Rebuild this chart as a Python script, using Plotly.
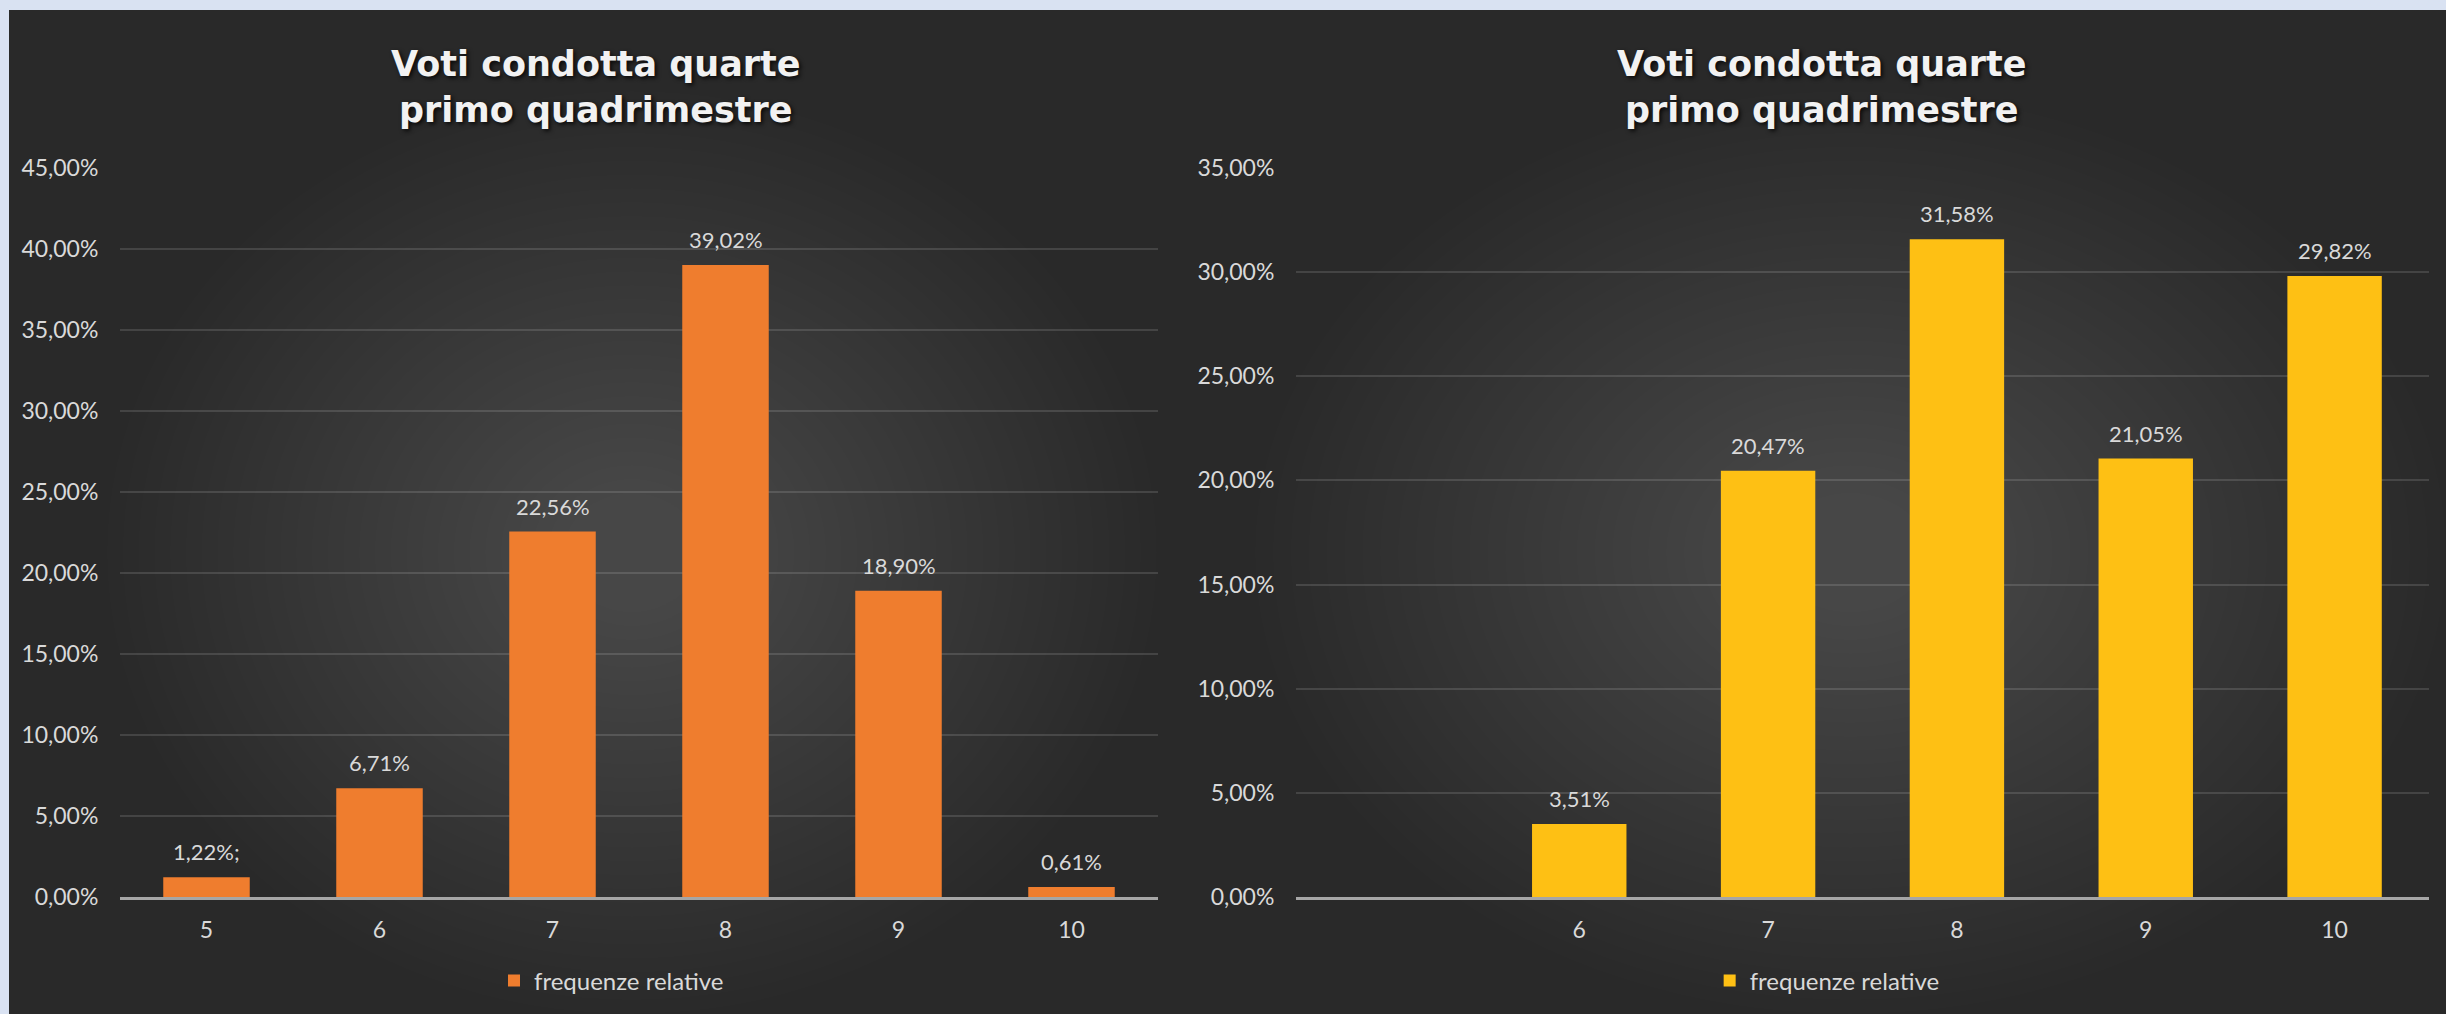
import plotly.graph_objects as go

# Dati: voti di condotta delle quarte, primo quadrimestre (frequenze relative)
voti_sx = ['5', '6', '7', '8', '9', '10']
freq_sx = [0.0122, 0.0671, 0.2256, 0.3902, 0.1890, 0.0061]
etichette_sx = ['1,22%;', '6,71%', '22,56%', '39,02%', '18,90%', '0,61%']

voti_dx = ['5', '6', '7', '8', '9', '10']
freq_dx = [None, 0.0351, 0.2047, 0.3158, 0.2105, 0.2982]
etichette_dx = ['', '3,51%', '20,47%', '31,58%', '21,05%', '29,82%']
tick_dx = ['', '6', '7', '8', '9', '10']

titolo = 'Voti condotta quarte<br>primo quadrimestre'
nome_serie = 'frequenze relative'

W, H = 2446, 1014
FONT = 'Lato'
GRIGIO_TESTO = '#d9d9d9'

fig = go.Figure()

fig.add_trace(go.Bar(
    x=voti_sx, y=freq_sx,
    marker=dict(color='#ef7d2e', line=dict(width=0)),
    name=nome_serie, xaxis='x', yaxis='y', legend='legend', showlegend=True,
))
fig.add_trace(go.Bar(
    x=voti_dx, y=freq_dx,
    marker=dict(color='#fec014', line=dict(width=0)),
    name=nome_serie, xaxis='x2', yaxis='y2', legend='legend2', showlegend=True,
))

# etichette dati sopra le barre (come in Excel, un po' staccate)
# x come indice di categoria: le stringhe numeriche verrebbero lette come posizioni
for ys, labs, xa, ya in [(freq_sx, etichette_sx, 'x', 'y'),
                         (freq_dx, etichette_dx, 'x2', 'y2')]:
    for i, (yv, lab) in enumerate(zip(ys, labs)):
        if yv is None:
            continue
        fig.add_annotation(x=i, y=yv, xref=xa, yref=ya, text=lab, showarrow=False,
                           yanchor='bottom', yshift=10,
                           font=dict(color=GRIGIO_TESTO, size=22, family=FONT))

# assi comuni
asse_y = dict(
    tickformat='.2%', dtick=0.05, showgrid=True,
    gridcolor='rgba(255,255,255,0.13)', gridwidth=1.5,
    zeroline=False, showline=False, automargin=False,
    ticks='outside', ticklen=16, tickcolor='rgba(0,0,0,0)',
    tickfont=dict(color=GRIGIO_TESTO, size=23, family=FONT),
    domain=[(H - 897) / H, (H - 168) / H],
)
asse_x = dict(
    type='category', showgrid=False, zeroline=False, automargin=False,
    range=[-0.5, 5.5],
    showline=True, linecolor='#a6a6a6', linewidth=3,
    ticks='outside', ticklen=10, tickcolor='rgba(0,0,0,0)',
    tickfont=dict(color=GRIGIO_TESTO, size=23, family=FONT),
)

fig.update_layout(
    width=W, height=H,
    margin=dict(l=0, r=0, t=0, b=0, autoexpand=False),
    paper_bgcolor='#d9e2f2',
    plot_bgcolor='rgba(0,0,0,0)',
    separators=',.',
    bargap=0.5,
    showlegend=True,
    font=dict(family=FONT, color=GRIGIO_TESTO),
    xaxis=dict(asse_x, domain=[120 / W, 1158 / W], anchor='y'),
    yaxis=dict(asse_y, range=[0, 0.45], anchor='x'),
    xaxis2=dict(asse_x, domain=[1296 / W, 2429 / W], anchor='y2',
                tickvals=voti_dx, ticktext=tick_dx),
    yaxis2=dict(asse_y, range=[0, 0.35], anchor='x2'),
    legend=dict(x=0.25, y=(1014 - 981) / H, xanchor='center', yanchor='middle',
                orientation='h', bgcolor='rgba(0,0,0,0)',
                font=dict(color=GRIGIO_TESTO, size=24, family=FONT)),
    legend2=dict(x=0.747, y=(1014 - 981) / H, xanchor='center', yanchor='middle',
                 orientation='h', bgcolor='rgba(0,0,0,0)',
                 font=dict(color=GRIGIO_TESTO, size=24, family=FONT)),
)

# sfondo dei due pannelli: base scura + alone chiaro al centro
pannelli = [(9 / W, 1157 / W), (1157 / W, 1.0)]
top = (H - 10) / H
forme = []
for x0, x1 in pannelli:
    forme.append(dict(type='rect', xref='paper', yref='paper', x0=x0, x1=x1, y0=0, y1=top,
                      fillcolor='#292929', line=dict(width=0), layer='below'))
    cx, cy = (x0 + x1) / 2 + 0.02, top / 2 - 0.04
    n = 30
    for k in range(n):
        f = 1.0 - 0.9 * k / n
        rx = min(cx - x0, x1 - cx) * f
        ry = min(cy, top - cy) * f
        forme.append(dict(type='circle', xref='paper', yref='paper',
                          x0=cx - rx, x1=cx + rx, y0=cy - ry, y1=cy + ry,
                          fillcolor='rgba(255,255,255,0.0075)', line=dict(width=0), layer='below'))
fig.update_layout(shapes=forme)

# titoli
for xc in [596 / W, 1822 / W]:
    fig.add_annotation(
        text=titolo, xref='paper', yref='paper', x=xc, y=1 - 87 / H,
        xanchor='center', yanchor='middle', showarrow=False,
        font=dict(family='DejaVu Sans', size=35, color='#f2f2f2', weight='bold',
                  shadow='2px 2px 4px rgba(0,0,0,0.8)'),
    )

fig.write_html('out.html', config={'displayModeBar': False},
               post_script="document.body.style.margin='0';")
